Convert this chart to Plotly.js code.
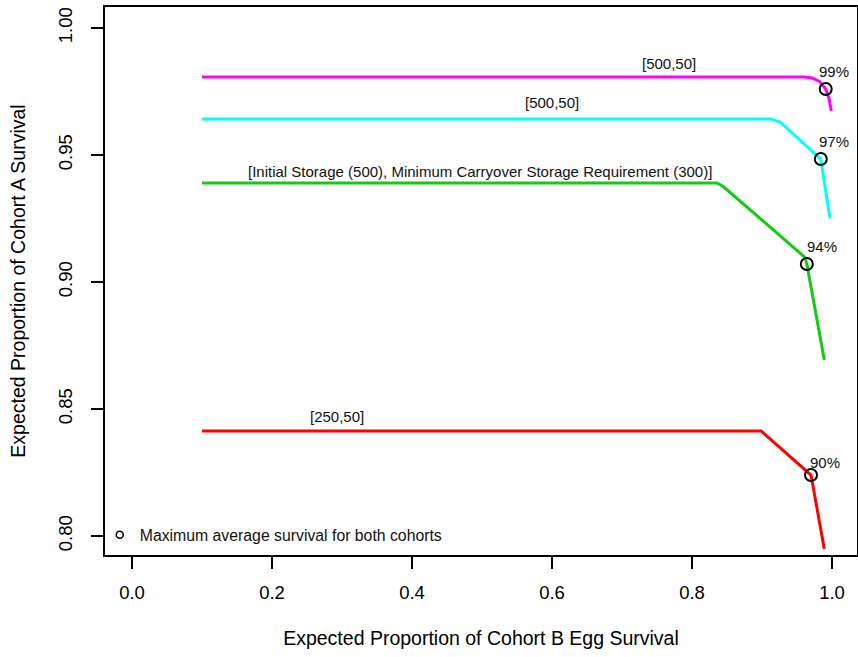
<!DOCTYPE html>
<html>
<head>
<meta charset="utf-8">
<script src="https://cdn.plot.ly/plotly-3.0.1.min.js"></script>
<style>html,body{margin:0;padding:0;background:#fff;}#chart{width:858px;height:657px;}</style>
</head>
<body>
<div id="chart"></div>
<script>
// Series: [Initial storage, minimum carryover storage]
const xMagenta = [0.10, 0.960, 0.972, 0.982, 0.991, 0.996, 0.999];
const yMagenta = [0.9807, 0.9807, 0.9803, 0.9790, 0.9760, 0.9720, 0.9673];

const xCyan = [0.10, 0.912, 0.926, 0.984, 0.997];
const yCyan = [0.9642, 0.9642, 0.9630, 0.9484, 0.9252];

const xGreen = [0.10, 0.836, 0.845, 0.961, 0.964, 0.989];
const yGreen = [0.9390, 0.9390, 0.9375, 0.9098, 0.9071, 0.8693];

const xRed = [0.10, 0.899, 0.970, 0.989];
const yRed = [0.8413, 0.8413, 0.8240, 0.7949];

// Maximum average survival points
const xOpt = [0.991, 0.984, 0.964, 0.970];
const yOpt = [0.9760, 0.9484, 0.9071, 0.8240];
const optLabels = ['99%', '97%', '94%', '90%'];
const optLabelX = [1.003, 1.003, 0.986, 0.990];
const optLabelY = [0.9827, 0.9555, 0.9138, 0.8290];

// Series labels
const seriesLabels = ['[500,50]', '[500,50]', '[Initial Storage (500), Minimum Carryover Storage Requirement (300)]', '[250,50]'];
const seriesLabelX = [0.767, 0.600, 0.497, 0.293];
const seriesLabelY = [0.9862, 0.9705, 0.9437, 0.8472];

const xTicks = [0.0, 0.2, 0.4, 0.6, 0.8, 1.0];
const yTicks = [0.80, 0.85, 0.90, 0.95, 1.00];

const FONT = '"Liberation Sans", Arial, Helvetica, sans-serif';

function lineTrace(x, y, color) {
  return {x: x, y: y, type: 'scatter', mode: 'lines', showlegend: false,
          hoverinfo: 'skip', line: {color: color, width: 3}};
}

const traces = [
  lineTrace(xMagenta, yMagenta, '#ff00ff'),
  lineTrace(xCyan, yCyan, '#00ffff'),
  lineTrace(xGreen, yGreen, '#11cc11'),
  lineTrace(xRed, yRed, '#ff0000'),
  {x: xOpt, y: yOpt, type: 'scatter', mode: 'markers', showlegend: false,
   marker: {symbol: 'circle-open', size: 12, color: '#000', line: {width: 2, color: '#000'}}},
  {x: [null], y: [null], type: 'scatter', mode: 'markers', showlegend: true,
   name: 'Maximum average survival for both cohorts',
   marker: {symbol: 'circle-open', size: 7, color: '#000', line: {width: 1.5, color: '#000'}}}
];

const annotations = [];
for (let i = 0; i < seriesLabels.length; i++) {
  annotations.push({x: seriesLabelX[i], y: seriesLabelY[i], xref: 'x', yref: 'y',
    text: seriesLabels[i], showarrow: false, xanchor: 'center', yanchor: 'middle',
    font: {family: FONT, size: 15, color: '#111'}});
}
for (let i = 0; i < optLabels.length; i++) {
  annotations.push({x: optLabelX[i], y: optLabelY[i], xref: 'x', yref: 'y',
    text: optLabels[i], showarrow: false, xanchor: 'center', yanchor: 'middle',
    font: {family: FONT, size: 15, color: '#111'}});
}

const layout = {
  width: 858, height: 657,
  margin: {l: 105, r: 1, t: 7, b: 102, pad: 0},
  paper_bgcolor: '#fff', plot_bgcolor: '#fff',
  font: {family: FONT, color: '#000'},
  showlegend: true,
  legend: {x: -0.007, y: 0.0365, xanchor: 'left', yanchor: 'middle',
           bgcolor: 'rgba(0,0,0,0)', borderwidth: 0, itemwidth: 30,
           font: {family: FONT, size: 15.8, color: '#111'}},
  xaxis: {
    range: [-0.0386, 1.0357], tickvals: xTicks, tickformat: '.1f',
    showgrid: false, zeroline: false, showline: true, mirror: true,
    linecolor: '#000', linewidth: 2,
    ticks: 'outside', ticklen: 12, tickwidth: 2, tickcolor: '#000',
    ticklabelstandoff: 8,
    tickfont: {family: FONT, size: 18.5, color: '#000'},
    title: {text: 'Expected Proportion of Cohort B Egg Survival', standoff: 29,
            font: {family: FONT, size: 19.5, color: '#000'}},
    automargin: false
  },
  yaxis: {
    range: [0.79252, 1.00827], tickvals: yTicks, tickformat: '.2f', tickangle: -90,
    showgrid: false, zeroline: false, showline: true, mirror: true,
    linecolor: '#000', linewidth: 2,
    ticks: 'outside', ticklen: 12, tickwidth: 2, tickcolor: '#000',
    ticklabelstandoff: 12,
    tickfont: {family: FONT, size: 18.5, color: '#000'},
    title: {text: 'Expected Proportion of Cohort A Survival', standoff: 24,
            font: {family: FONT, size: 19.5, color: '#000'}},
    automargin: false
  },
  annotations: annotations
};

Plotly.newPlot('chart', traces, layout, {displayModeBar: false, staticPlot: true});
</script>
</body>
</html>
